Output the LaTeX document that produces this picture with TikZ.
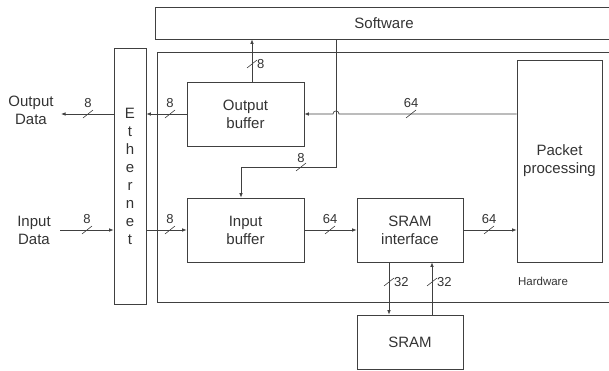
\documentclass[tikz,border=0pt]{standalone}
\usepackage{fontspec}
\setmainfont{Liberation Sans}
\usetikzlibrary{arrows.meta,calc}
\definecolor{ink}{HTML}{333333}
\definecolor{wire}{HTML}{404040}
\tikzset{
  blk/.style={draw=wire, line width=0.7pt, inner sep=0pt, align=center,
              text=ink, font=\fontsize{15}{18}\selectfont},
  arr/.style={draw=wire, line width=0.7pt, -{Latex[length=4.5pt,width=3.5pt]}},
  tick/.style={draw=wire, line width=0.6pt},
  lbl/.style={inner sep=0pt, text=ink, font=\fontsize{13}{15}\selectfont},
  side/.style={inner sep=0pt, text=ink, align=center, font=\fontsize{15}{18}\selectfont}
}
% bus-width mark: slash across a wire plus its width label
\newcommand\busmark[3]{%
  \draw[tick] ($(#1)+(-5,4)$) -- ($(#1)+(5,-4)$);
  \node[lbl,#3] at (#1) {#2};}
\begin{document}
\begin{tikzpicture}[x=1pt,y=-1pt]
\useasboundingbox (0,0) rectangle (609,370);

% software layer and hardware region
\node[blk, minimum width=470, minimum height=32] (sw) at (390,23) {};
\node[side] (swt) at (384,23) {Software};
\node[blk, minimum width=468, minimum height=250] (hw) at (391,177) {};
\node[lbl, font=\fontsize{11.5}{13}\selectfont] (hwt) at (543,281) {Hardware};

% blocks
\node[blk, minimum width=32, minimum height=256] (eth) at (130,176)
  {E\\t\\h\\e\\r\\n\\e\\t};
\node[blk, minimum width=117, minimum height=64] (ob) at (245.5,114) {Output\\buffer};
\node[blk, minimum width=117, minimum height=64] (ib) at (245.5,230) {Input\\buffer};
\node[blk, minimum width=106, minimum height=64] (si) at (410,230) {SRAM\\interface};
\node[blk, minimum width=85, minimum height=202] (pp) at (559.5,161) {Packet\\processing};
\node[blk, minimum width=106, minimum height=54] (sr) at (410,342) {SRAM};

% external data ports
\node[side] (outd) at (31,110) {Output\\Data};
\node[side] (ind) at (34,230) {Input\\Data};
\coordinate (outend) at (61,114);
\coordinate (inbeg) at (60,230);

% connectors
\draw[arr] ([xshift=6.5]ob.north) -- ([xshift=6.5]ob.north |- sw.south);
\coordinate (fbk) at (336,167);
\draw[arr] (fbk |- sw.south) -- (fbk) -| ([xshift=-4.5]ib.north);
\draw[arr] (pp.west |- ob.east) -- (339,114)
  .. controls (339,110) and (333,110) .. (333,114) -- (ob.east);
\draw[arr] (ob.west) -- (ob.west -| eth.east);
\draw[arr] (ob.west -| eth.west) -- (outend);
\draw[arr] (inbeg) -- (inbeg -| eth.west);
\draw[arr] (ib.west -| eth.east) -- (ib.west);
\draw[arr] (ib.east) -- (si.west);
\draw[arr] (si.east) -- (si.east -| pp.west);
\draw[arr] ([xshift=-21]si.south) -- ([xshift=-21]sr.north);
\draw[arr] ([xshift=22]sr.north) -- ([xshift=22]si.south);

% bus widths
\busmark{88,114}{8}{anchor=south, yshift=6pt}
\busmark{170,114}{8}{anchor=south, yshift=6pt}
\busmark{87,230}{8}{anchor=south, yshift=6pt}
\busmark{170,230}{8}{anchor=south, yshift=6pt}
\busmark{330,230}{64}{anchor=south, yshift=6pt}
\busmark{489,230}{64}{anchor=south, yshift=6pt}
\busmark{411,114}{64}{anchor=south, yshift=6pt}
\busmark{301,167}{8}{anchor=south, yshift=4pt}
\busmark{252,64}{8}{anchor=west, xshift=5pt}
\busmark{389,282}{32}{anchor=west, xshift=5pt}
\busmark{432,282}{32}{anchor=west, xshift=5pt}
\end{tikzpicture}
\end{document}
